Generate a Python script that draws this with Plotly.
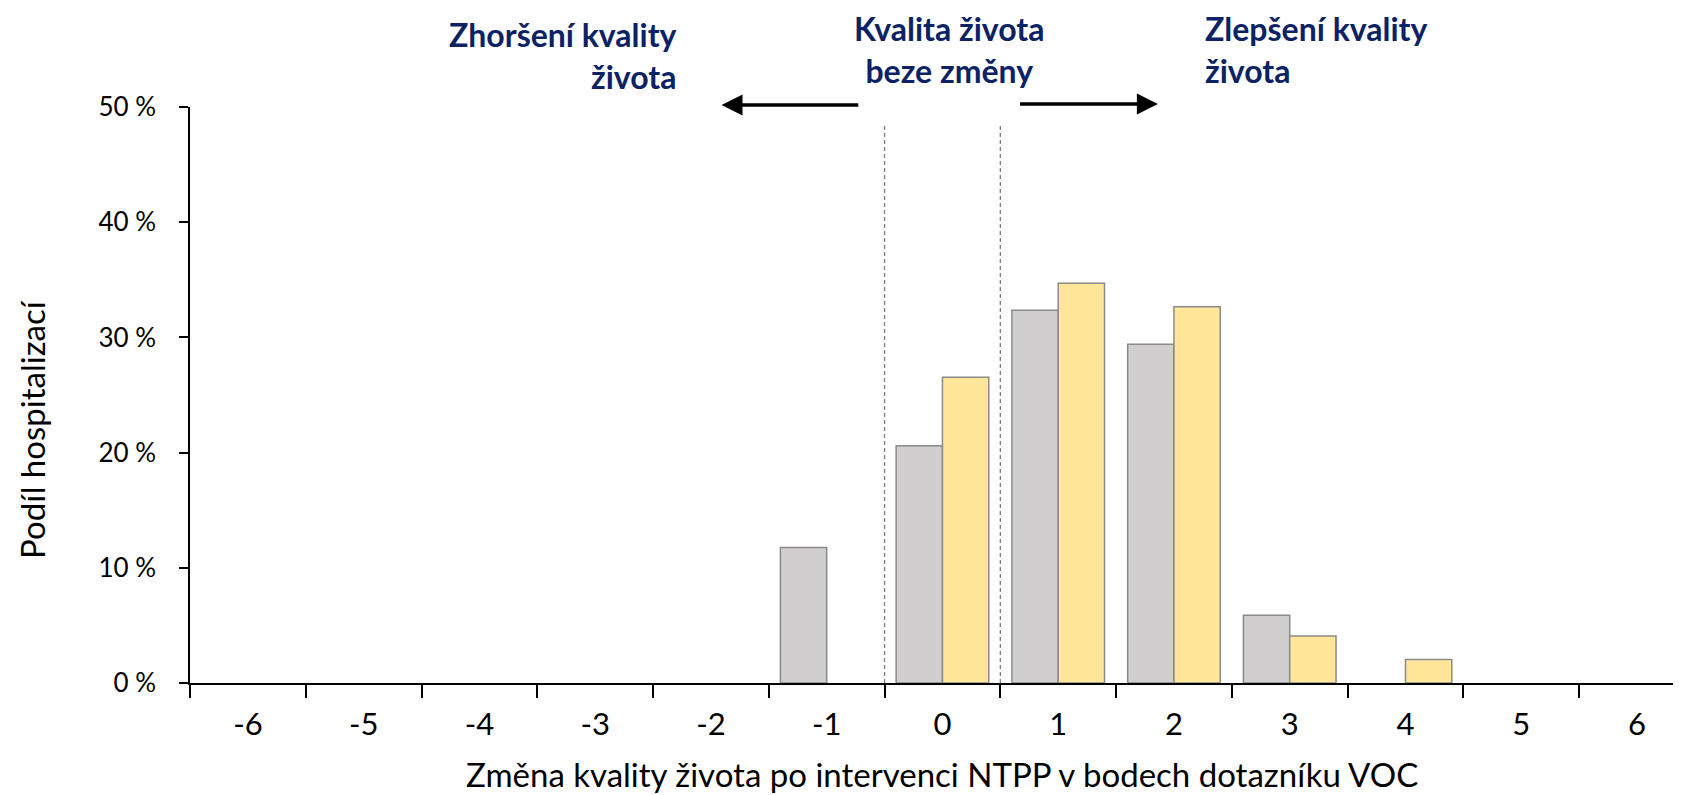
import plotly.graph_objects as go

categories = ["-6", "-5", "-4", "-3", "-2", "-1", "0", "1", "2", "3", "4", "5", "6"]
gray_values = [None, None, None, None, None, 11.76, 20.59, 32.35, 29.41, 5.88, None, None, None]
yellow_values = [None, None, None, None, None, None, 26.53, 34.69, 32.65, 4.08, 2.04, None, None]
y_tickvals = [0, 10, 20, 30, 40, 50]
y_ticktext = ["0 %", "10 %", "20 %", "30 %", "40 %", "50 %"]

FONT = "Lato"
NAVY = "#0B2265"

# page has an 8px body margin: figure occupies (8,8)-(1681,795)
OFF = 8
PL, PT, PR, PB = 190, 107, 1681, 683   # plot area in window pixels
PW, PH = PR - PL, PB - PT


def px(xw):
    return (xw - PL) / PW


def py(yw):
    return (PB - yw) / PH


fig = go.Figure()
fig.add_trace(go.Bar(x=categories, y=gray_values, name="A",
                     marker=dict(color="#D0CECE", line=dict(color="#8A8A8A", width=1.5))))
fig.add_trace(go.Bar(x=categories, y=yellow_values, name="B",
                     marker=dict(color="#FFE699", line=dict(color="#8A8A8A", width=1.5))))

fig.update_layout(
    width=1681 - OFF, height=795 - OFF,
    margin=dict(l=PL - OFF, r=0, t=PT - OFF, b=795 - PB, autoexpand=False),
    barmode="group", bargap=0.2, bargroupgap=0,
    plot_bgcolor="white", paper_bgcolor="white",
    showlegend=False,
    font=dict(family=FONT, color="#000000"),
)
fig.update_xaxes(
    type="category", range=[-0.5, 12.38], tickson="boundaries",
    ticks="outside", ticklen=13, tickwidth=2, tickcolor="black",
    showline=True, linecolor="black", linewidth=2,
    showgrid=False, tickfont=dict(size=31, family=FONT, color="black"),
    ticklabelstandoff=13,
    automargin=False,
)
fig.update_yaxes(
    range=[0, 50], tickvals=y_tickvals, ticktext=y_ticktext,
    ticks="outside", ticklen=9, tickwidth=1.5, tickcolor="black",
    showline=True, linecolor="black", linewidth=1.5,
    showgrid=False, zeroline=False,
    tickfont=dict(size=26, family=FONT, color="black"),
    ticklabelstandoff=18,
    automargin=False,
)

# dashed separators
for xb in [5.5, 6.5]:
    fig.add_shape(type="line", xref="x", yref="y", x0=xb, x1=xb, y0=0, y1=48.4,
                  line=dict(color="#7F7F7F", width=1.3, dash="4px,3px"))

# arrows
fig.add_annotation(x=px(721.5), y=py(105), xref="paper", yref="paper",
                   ax=859.8 - 721.5, ay=0, axref="pixel", ayref="pixel",
                   showarrow=True, arrowhead=2, arrowsize=1.2, arrowwidth=3.5,
                   arrowcolor="black", text="")
fig.add_annotation(x=px(1157.9), y=py(104), xref="paper", yref="paper",
                   ax=1018.5 - 1157.9, ay=0, axref="pixel", ayref="pixel",
                   showarrow=True, arrowhead=2, arrowsize=1.2, arrowwidth=3.5,
                   arrowcolor="black", text="")

# header texts
fig.add_annotation(x=px(678), y=py(55), xref="paper", yref="paper",
                   text="<b>Zhoršení kvality<br>života</b>", showarrow=False, align="right",
                   xanchor="right", yanchor="middle", borderpad=0,
                   font=dict(family=FONT, size=32, color=NAVY))
fig.add_annotation(x=px(949), y=py(49), xref="paper", yref="paper",
                   text="<b>Kvalita života<br>beze změny</b>", showarrow=False, align="center",
                   xanchor="center", yanchor="middle", borderpad=0,
                   font=dict(family=FONT, size=32, color=NAVY))
fig.add_annotation(x=px(1204), y=py(49), xref="paper", yref="paper",
                   text="<b>Zlepšení kvality<br>života</b>", showarrow=False, align="left",
                   xanchor="left", yanchor="middle", borderpad=0,
                   font=dict(family=FONT, size=32, color=NAVY))

# axis titles
fig.add_annotation(x=px(942), y=py(774), xref="paper", yref="paper",
                   text="Změna kvality života po intervenci NTPP v bodech dotazníku VOC",
                   showarrow=False, xanchor="center", yanchor="middle",
                   font=dict(family=FONT, size=33, color="black"))
fig.add_annotation(x=px(32), y=py(430), xref="paper", yref="paper",
                   text="Podíl hospitalizací", textangle=-90,
                   showarrow=False, xanchor="center", yanchor="middle",
                   font=dict(family=FONT, size=33, color="black"))

fig.write_html("out.html")
